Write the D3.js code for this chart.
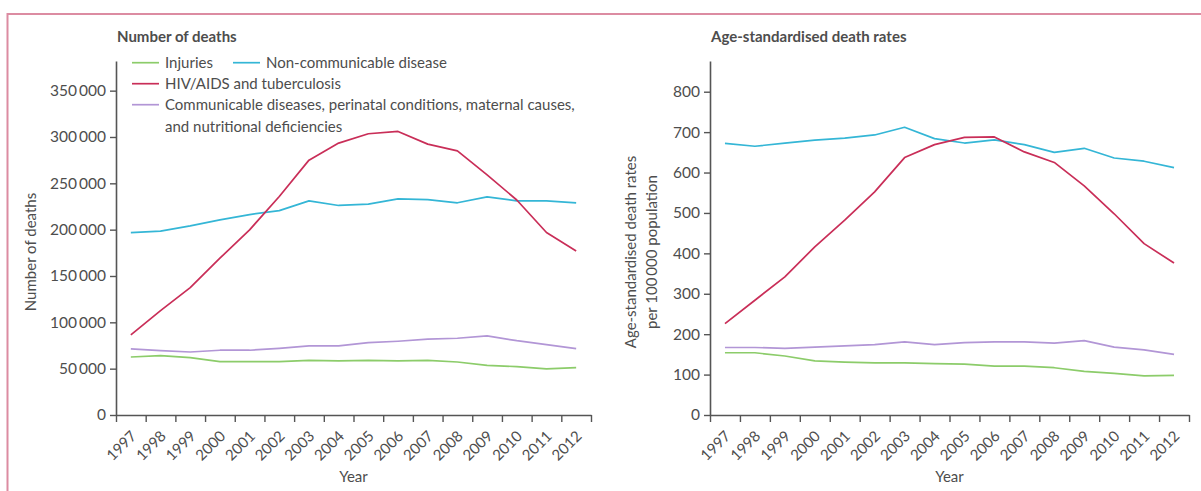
<!DOCTYPE html>
<html>
<head>
<meta charset="utf-8">
<script src="https://cdn.jsdelivr.net/npm/d3@7"></script>
<style>
  body { margin: 0; background: #fff; }
  svg { display: block; }
  text { font-family: Lato, "Open Sans", sans-serif; fill: #4d4d4d; }
</style>
</head>
<body>
<svg id="chart" width="1201" height="491"></svg>
<script>
// Years on the horizontal axis
const years = [1997, 1998, 1999, 2000, 2001, 2002, 2003, 2004, 2005, 2006, 2007, 2008, 2009, 2010, 2011, 2012];

// Number of deaths
const deathsInjuries = [62600, 64000, 61900, 57600, 57600, 57600, 59000, 58300, 59000, 58300, 59000, 57200, 53600, 52200, 49700, 51100];
const deathsNCD = [196900, 198400, 204000, 210600, 216300, 220600, 231100, 226100, 227500, 233300, 232500, 229000, 235400, 231100, 231100, 229000];
const deathsHIV = [86400, 112600, 137500, 169200, 199800, 235800, 275000, 293400, 303500, 306000, 292300, 285100, 259200, 232000, 196900, 177000];
const deathsComm = [71300, 69400, 68000, 69900, 69900, 72000, 74500, 74500, 78100, 79600, 81800, 82800, 85300, 80200, 75900, 71600];

// Age-standardised death rates per 100 000 population
const rateInjuries = [154, 154, 146, 134, 131, 129, 129, 127, 126, 121, 121, 117, 108, 103, 97, 98];
const rateNCD = [672, 665, 673, 680, 685, 693, 712, 684, 673, 681, 669, 650, 660, 636, 628, 612];
const rateHIV = [226, 284, 342, 416, 482, 552, 637, 669, 687, 688, 651, 625, 567, 498, 424, 376];
const rateComm = [167, 167, 165, 168, 171, 174, 181, 174, 179, 181, 181, 178, 184, 168, 161, 150];

// Tick values
const deathTicks = [0, 50000, 100000, 150000, 200000, 250000, 300000, 350000];
const rateTicks = [0, 100, 200, 300, 400, 500, 600, 700, 800];

// Series labels and colours
const seriesNames = ["Injuries", "Non-communicable disease", "HIV/AIDS and tuberculosis",
  "Communicable diseases, perinatal conditions, maternal causes,"];
const seriesColors = ["#8ccc6a", "#34b6d6", "#c92e58", "#b296d6"];

const svg = d3.select("#chart");

// Outer frame
svg.append("rect")
  .attr("x", 7.5).attr("y", 14)
  .attr("width", 1400).attr("height", 700)
  .attr("fill", "none").attr("stroke", "#dc8ca2").attr("stroke-width", 2);

const spaceLocale = d3.formatLocale({ decimal: ".", thousands: "\u2009", grouping: [3], currency: ["", ""] });
const fmtThousands = spaceLocale.format(",d");

function drawPanel(opts) {
  const { x0, x1, yBottom, yTop, yMax, ticks, tickFmt, series, title } = opts;
  const g = svg.append("g");

  const x = d3.scaleLinear().domain([years[0] - 0.5, years[years.length - 1] + 0.5]).range([x0, x1]);
  const y = d3.scaleLinear().domain([0, yMax]).range([yBottom, yTop]);

  // Y axis
  const yAxis = g.append("g")
    .attr("transform", `translate(${x0},0)`)
    .call(d3.axisLeft(y).tickValues(ticks).tickFormat(tickFmt).tickSize(6).tickSizeOuter(0).tickPadding(4));
  yAxis.select(".domain").attr("stroke", "#555").attr("stroke-width", 1.6);
  yAxis.selectAll(".tick line").attr("stroke", "#555").attr("stroke-width", 1.4);
  yAxis.selectAll(".tick text").style("font-size", "15.5px").attr("fill", "#4d4d4d").attr("font-family", null);

  // X axis: ticks on year boundaries
  const bounds = d3.range(years[0] - 0.5, years[years.length - 1] + 1, 1);
  const xAxis = g.append("g")
    .attr("transform", `translate(0,${yBottom})`)
    .call(d3.axisBottom(x).tickValues(bounds).tickFormat("").tickSize(7).tickSizeOuter(0));
  xAxis.select(".domain").attr("stroke", "#555").attr("stroke-width", 1.6);
  xAxis.selectAll(".tick line").attr("stroke", "#555").attr("stroke-width", 1.4);

  // Year labels, rotated, centred on each year
  const xLabels = g.append("g")
    .attr("transform", `translate(0,${yBottom})`)
    .call(d3.axisBottom(x).tickValues(years).tickFormat(d3.format("d")).tickSize(0));
  xLabels.select(".domain").remove();
  xLabels.selectAll(".tick text")
    .attr("font-family", null)
    .style("font-size", "15px")
    .attr("fill", "#4d4d4d")
    .attr("text-anchor", "end")
    .attr("y", 0).attr("dy", 0)
    .attr("transform", "translate(6,22) rotate(-45)");

  // Series lines
  const line = d3.line().x((d, i) => x(years[i])).y(d => y(d));
  series.forEach((s, k) => {
    g.append("path")
      .datum(s)
      .attr("fill", "none")
      .attr("stroke", seriesColors[k])
      .attr("stroke-width", 1.7)
      .attr("stroke-linejoin", "round")
      .attr("d", line);
  });

  // Panel title
  g.append("text")
    .attr("x", x0 + 1).attr("y", 42)
    .style("font-size", "15px").style("font-weight", "bold").attr("fill", "#2a2a2a")
    .text(title);

  // X axis title
  g.append("text")
    .attr("x", (x0 + x1) / 2).attr("y", 482)
    .attr("text-anchor", "middle").style("font-size", "15px")
    .text("Year");

  return { x, y, g };
}

// Left panel: number of deaths
drawPanel({
  x0: 116, x1: 591, yBottom: 415, yTop: 61, yMax: 382000,
  ticks: deathTicks, tickFmt: fmtThousands,
  series: [deathsInjuries, deathsNCD, deathsHIV, deathsComm],
  title: "Number of deaths"
});

svg.append("text")
  .attr("transform", "translate(36,252) rotate(-90)")
  .attr("text-anchor", "middle").style("font-size", "15px")
  .text("Number of deaths");

// Right panel: age-standardised rates
drawPanel({
  x0: 710, x1: 1189, yBottom: 415, yTop: 61, yMax: 876,
  ticks: rateTicks, tickFmt: d3.format("d"),
  series: [rateInjuries, rateNCD, rateHIV, rateComm],
  title: "Age-standardised death rates"
});

svg.append("text")
  .attr("transform", "translate(636,252) rotate(-90)")
  .attr("text-anchor", "middle").style("font-size", "15px")
  .text("Age-standardised death rates");
svg.append("text")
  .attr("transform", "translate(657,252) rotate(-90)")
  .attr("text-anchor", "middle").style("font-size", "15px")
  .text("per 100\u2009000 population");

// Legend
const legendItems = [
  { k: 0, x: 132, y: 62.7 },
  { k: 1, x: 233, y: 62.7 },
  { k: 2, x: 132, y: 83.7 },
  { k: 3, x: 132, y: 104.7 }
];
const legend = svg.append("g");
legendItems.forEach(it => {
  legend.append("line")
    .attr("x1", it.x).attr("x2", it.x + 27)
    .attr("y1", it.y).attr("y2", it.y)
    .attr("stroke", seriesColors[it.k]).attr("stroke-width", 1.7);
  legend.append("text")
    .attr("x", it.x + 33).attr("y", it.y + 5.5)
    .style("font-size", "15px")
    .text(seriesNames[it.k]);
});
legend.append("text")
  .attr("x", 165).attr("y", 104.7 + 21.7 + 5.5)
  .style("font-size", "15px")
  .text("and nutritional deficiencies");
</script>
</body>
</html>
